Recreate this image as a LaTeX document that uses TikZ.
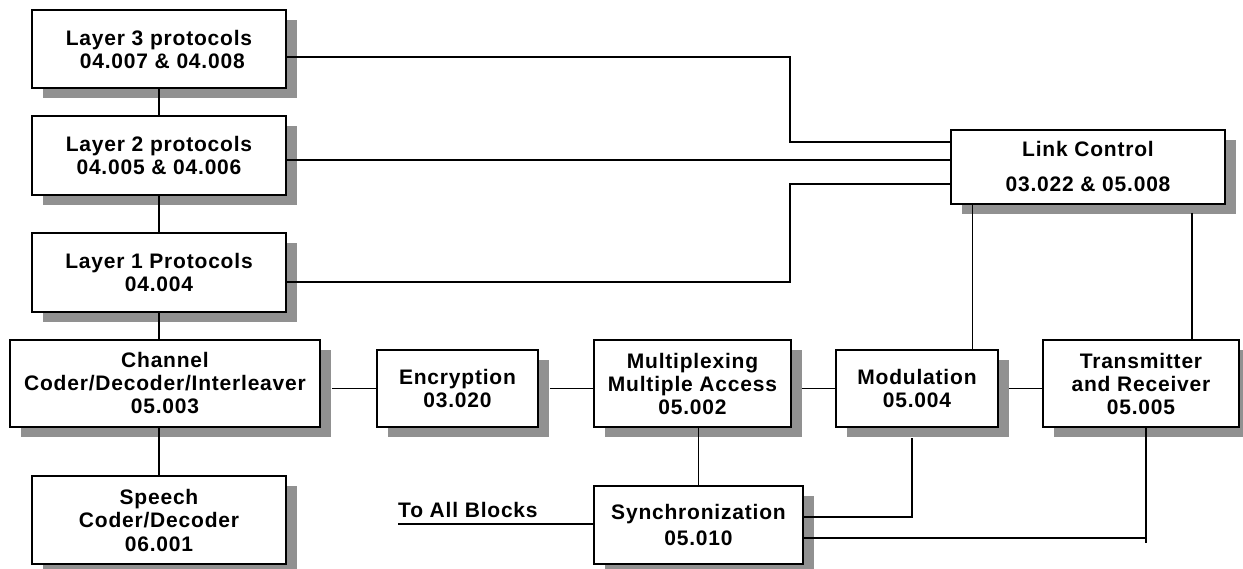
\documentclass[tikz,border=0pt]{standalone}
\usepackage{fontspec}
\newfontfamily\diagfont{Liberation Sans}[LetterSpace=3.8]
\usetikzlibrary{shadows}
\definecolor{shadowgray}{RGB}{145,145,145}
\begin{document}
\begin{tikzpicture}[x=1pt,y=-1pt,
  txt/.style={font=\diagfont\bfseries\fontsize{21}{23}\selectfont},
  blk/.style={txt,draw=black,line width=1.6pt,fill=white,align=center,inner sep=0pt,
    drop shadow={shadow xshift=11pt,shadow yshift=-10pt,fill=shadowgray,opacity=1}},
  wire/.style={line width=1.4pt,draw=black}]
\useasboundingbox (0,0) rectangle (1243,569);
\clip (0,0) rectangle (1243,569);
% blocks
\node[blk,minimum width=254pt,minimum height=78pt] (L3) at (159,49) {Layer 3 protocols\\ \ 04.007 \& 04.008};
\node[blk,minimum width=254pt,minimum height=79pt] (L2) at (159,155.5) {Layer 2 protocols\\04.005 \& 04.006};
\node[blk,minimum width=254pt,minimum height=79pt] (L1) at (159,272.5) {Layer 1 Protocols\\04.004};
\node[blk,minimum width=310pt,minimum height=87pt] (CH) at (165,383.5) {Channel\\Coder/Decoder/Interleaver\\05.003};
\node[blk,minimum width=254pt,minimum height=88pt] (SP) at (159,520) {Speech\\Coder/Decoder\\[1pt]06.001};
\node[blk,minimum width=161pt,minimum height=77pt] (EN) at (457.5,388.5) {Encryption\\03.020};
\node[blk,minimum width=197pt,minimum height=87pt] (MX) at (692.5,383.5) {Multiplexing\\Multiple Access\\05.002};
\node[blk,minimum width=162pt,minimum height=77pt] (MO) at (917,388.5) {Modulation\\05.004};
\node[blk,minimum width=196pt,minimum height=87pt] (TX) at (1141,383.5) {Transmitter\\and Receiver\\05.005};
\node[blk,minimum width=209pt,minimum height=78pt] (SY) at (698.5,525) {Synchronization\\[3pt]05.010};
\node[blk,minimum width=274pt,minimum height=74pt] (LC) at (1088,167) {Link Control\\[12pt]03.022 \& 05.008};
\node[txt,anchor=base west,inner sep=0pt] (TA) at (398,517) {To All Blocks};
% helper coordinates
\coordinate (jx) at (790,0);
\coordinate (lc1) at ([yshift=25pt]LC.west);
\coordinate (lc2) at ([yshift=7pt]LC.west);
\coordinate (lc3) at ([yshift=-17pt]LC.west);
\coordinate (lcb1) at ([xshift=22pt]LC.south west);
\coordinate (lcb2) at (1192,213);
\coordinate (mob) at (912,438);
\coordinate (txb) at (1146,427);
\coordinate (txe) at (1146,543);
\coordinate (txh) at (1146,538);
\coordinate (tab) at (398,524);
% vertical chain on the left
\draw[wire] (L3.south) -- (L2.north);
\draw[wire] (L2.south) -- (L1.north);
\draw[wire] (L1.south) -- (L1.south |- CH.north);
\draw[wire] (SP.north |- CH.south) -- (SP.north);
% layers to link control
\draw[wire] ([yshift=-8pt]L3.east) -| (jx |- lc1) -- (lc1);
\draw[wire] (L2.east |- lc2) -- (lc2);
\draw[wire] ([yshift=-9.5pt]L1.east) -| (jx |- lc3) -- (lc3);
% link control down
\draw[wire] (lcb1) -- (lcb1 |- MO.north);
\draw[wire] (lcb2) -- (lcb2 |- TX.north);
% middle row
\draw[wire] ([xshift=11pt]CH.east |- EN.west) -- (EN.west);
\draw[wire] ([xshift=11pt]EN.east) -- (MX.west |- EN.west);
\draw[wire] ([xshift=10pt]MX.east |- MO.west) -- (MO.west);
\draw[wire] ([xshift=10pt]MO.east) -- (TX.west |- MO.east);
% synchronization
\draw[wire] (MX.south -| SY.north) -- (SY.north);
\draw[wire] (mob) |- ([yshift=8pt]SY.east);
\draw[wire] (txb) -- (txe);
\draw[wire] (txh) -- (SY.east |- txh);
\draw[wire] (tab) -- (tab -| SY.west);
\end{tikzpicture}
\end{document}
